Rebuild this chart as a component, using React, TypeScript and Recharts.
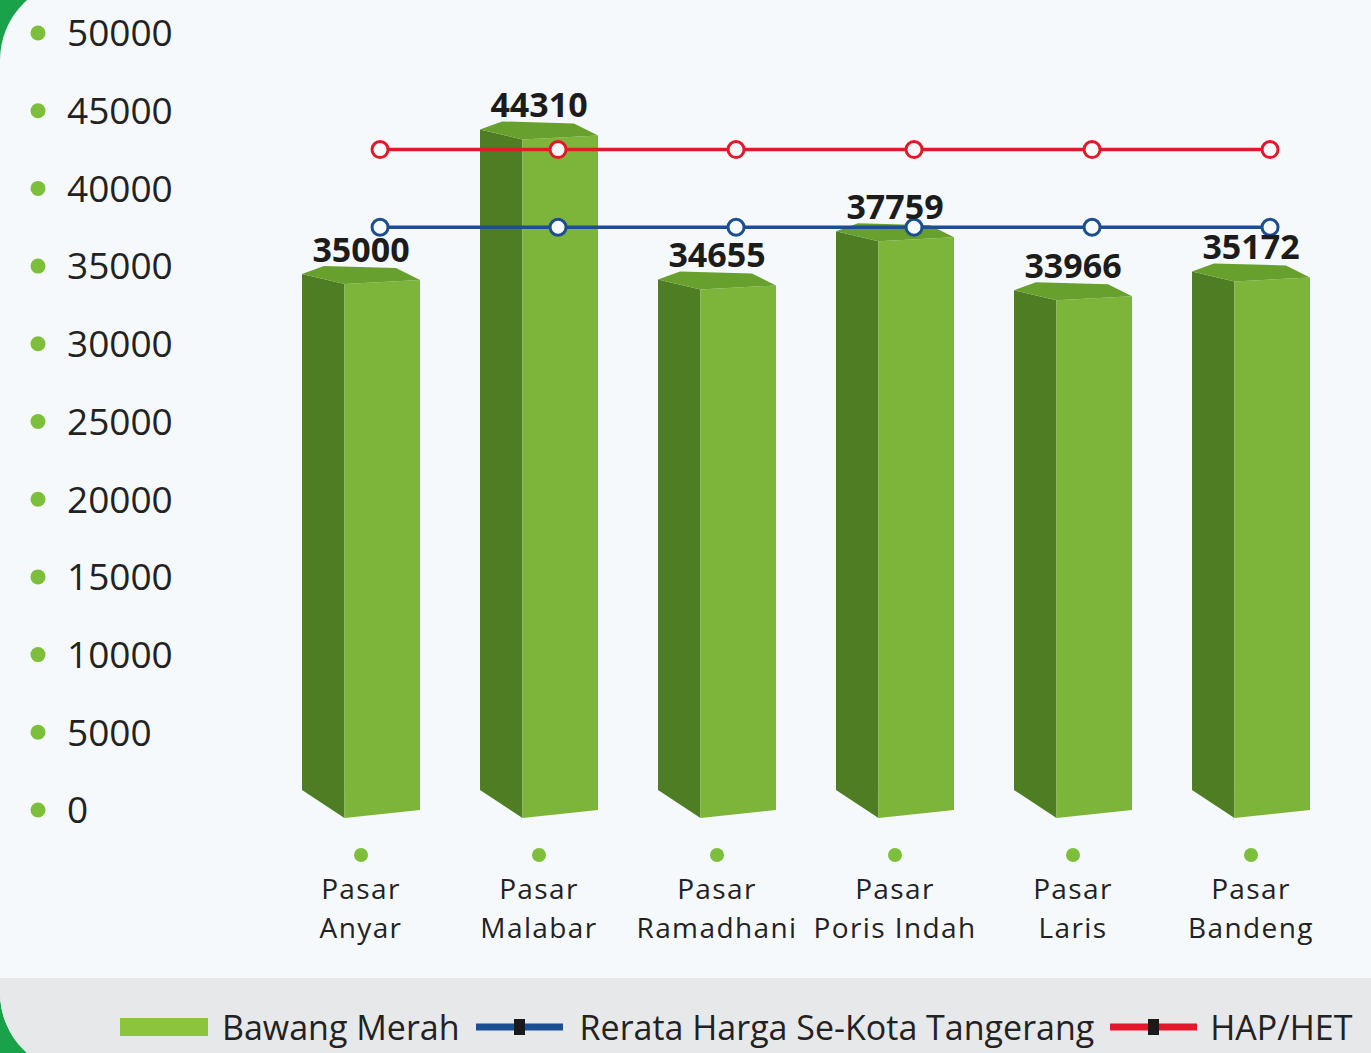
import React from 'react';
import { ComposedChart, Bar, Line, XAxis, YAxis, Legend, LabelList } from 'recharts';

const categories = ['Pasar Anyar', 'Pasar Malabar', 'Pasar Ramadhani', 'Pasar Poris Indah', 'Pasar Laris', 'Pasar Bandeng'];
const bawangMerah = [35000, 44310, 34655, 37759, 33966, 35172];
const rerataHarga = [37500, 37500, 37500, 37500, 37500, 37500];
const hapHet = [42500, 42500, 42500, 42500, 42500, 42500];
const yTicks = [0, 5000, 10000, 15000, 20000, 25000, 30000, 35000, 40000, 45000, 50000];
const seriesNames = ['Bawang Merah', 'Rerata Harga Se-Kota Tangerang', 'HAP/HET'];

const data = categories.map((name, i) => ({
  name,
  idx: i,
  bawang: bawangMerah[i],
  rerata: rerataHarga[i],
  hap: hapHet[i],
}));

const FONT = '"Open Sans", sans-serif';
const DOT_GREEN = '#7dbf3b';
const RED = '#e3192b';
const BLUE = '#1d4e8f';

const Bar3D = (props: any) => {
  const { x, y, width, height } = props;
  if (height == null || width == null) return null;
  const w = width;
  const side = w * 0.36;
  const top = y;
  const bottom = y + height;
  return (
    <g>
      <polygon
        points={`${x},${top + 8} ${x + side},${top + 18} ${x + side},${bottom + 8} ${x},${bottom - 20}`}
        fill="#4e7d23"
      />
      <polygon
        points={`${x + side},${top + 18} ${x + w},${top + 14} ${x + w},${bottom} ${x + side},${bottom + 8}`}
        fill="#7db43a"
      />
      <polygon
        points={`${x},${top + 8} ${x + 22},${top} ${x + w - 24},${top + 2} ${x + w},${top + 14} ${x + side},${top + 18}`}
        fill="#68a02e"
      />
    </g>
  );
};

const YTick = (props: any) => {
  const { y, payload } = props;
  return (
    <g>
      <circle cx={38} cy={y} r={7.5} fill={DOT_GREEN} />
      <text x={67} y={y} dy="0.36em" textAnchor="start" fontSize={37} fontFamily={FONT} fill="#222">
        {payload.value}
      </text>
    </g>
  );
};

const XTick = (props: any) => {
  const { x, y, payload } = props;
  const parts = String(payload.value).split(' ');
  const first = parts[0];
  const rest = parts.slice(1).join(' ');
  return (
    <g>
      <circle cx={x} cy={y + 45} r={7} fill={DOT_GREEN} />
      <text x={x} y={y + 89} textAnchor="middle" fontSize={28} letterSpacing={1.4} fontFamily={FONT} fill="#222">
        {first}
      </text>
      <text x={x} y={y + 128} textAnchor="middle" fontSize={28} letterSpacing={1.4} fontFamily={FONT} fill="#222">
        {rest}
      </text>
    </g>
  );
};

const ValueLabel = (props: any) => {
  const { x, y, width, value } = props;
  return (
    <text x={x + width / 2} y={y - 4} textAnchor="middle" fontSize={34} fontWeight={700} fontFamily={FONT} fill="#1c1c1c">
      {value}
    </text>
  );
};

const LineIcon = ({ color }: { color: string }) => (
  <svg width={87} height={18} style={{ display: 'block' }}>
    <rect x={0} y={5.5} width={87} height={7} fill={color} />
    <rect x={38} y={1} width={11} height={16} fill="#1a1a1a" />
  </svg>
);

const renderLegend = () => (
  <div
    style={{
      width: 1371,
      height: 75,
      background: '#e7e8ea',
      display: 'flex',
      alignItems: 'center',
      paddingLeft: 120,
      paddingTop: 22,
      boxSizing: 'border-box',
      fontFamily: FONT,
      fontSize: 34,
      color: '#222',
      whiteSpace: 'nowrap',
    }}
  >
    <div style={{ width: 88, height: 18, background: '#8cc43d' }} />
    <span style={{ marginLeft: 14 }}>{seriesNames[0]}</span>
    <div style={{ marginLeft: 16 }}>
      <LineIcon color={BLUE} />
    </div>
    <span style={{ marginLeft: 17 }}>{seriesNames[1]}</span>
    <div style={{ marginLeft: 16 }}>
      <LineIcon color={RED} />
    </div>
    <span style={{ marginLeft: 13 }}>{seriesNames[2]}</span>
  </div>
);

const OpenDot = (color: string) => (props: any) => {
  const { cx, cy } = props;
  return <circle cx={cx} cy={cy} r={8} fill="#f7fafd" stroke={color} strokeWidth={3} />;
};

export default function App() {
  return (
    <div
      style={{
        position: 'absolute',
        left: 0,
        top: 0,
        width: 1371,
        height: 1053,
        background: '#1aa24b',
        overflow: 'hidden',
      }}
    >
      <div
        style={{
          position: 'absolute',
          left: 0,
          top: -20,
          width: 1420,
          height: 1093,
          background: '#f5f9fc',
          borderRadius: 80,
          overflow: 'hidden',
        }}
      >
        <div style={{ position: 'absolute', left: 0, top: 20 }}>
          <ComposedChart
            width={1371}
            height={1053}
            data={data}
            margin={{ top: 33, right: 31, left: 0, bottom: 0 }}
            barCategoryGap={0}
          >
            <XAxis
              dataKey="name"
              xAxisId="cat"
              axisLine={false}
              tickLine={false}
              tickSize={0}
              tickMargin={0}
              height={168}
              interval={0}
              tick={<XTick />}
            />
            <XAxis
              dataKey="idx"
              xAxisId="pts"
              type="number"
              domain={[-0.607, 5.393]}
              allowDataOverflow
              hide
            />
            <YAxis
              domain={[0, 50000]}
              ticks={yTicks}
              axisLine={false}
              tickLine={false}
              tickSize={0}
              tickMargin={0}
              width={272}
              interval={0}
              tick={<YTick />}
            />
            <Legend verticalAlign="bottom" content={renderLegend} wrapperStyle={{ left: 0, bottom: 0, width: 1371, height: 75 }} />
            <Bar
              dataKey="bawang"
              name={seriesNames[0]}
              xAxisId="cat"
              barSize={118}
              shape={<Bar3D />}
              isAnimationActive={false}
            >
              <LabelList dataKey="bawang" content={<ValueLabel />} />
            </Bar>
            <Line
              dataKey="hap"
              name={seriesNames[2]}
              xAxisId="pts"
              stroke={RED}
              strokeWidth={3.5}
              dot={OpenDot(RED)}
              activeDot={false}
              isAnimationActive={false}
            />
            <Line
              dataKey="rerata"
              name={seriesNames[1]}
              xAxisId="pts"
              stroke={BLUE}
              strokeWidth={3.5}
              dot={OpenDot(BLUE)}
              activeDot={false}
              isAnimationActive={false}
            />
          </ComposedChart>
        </div>
      </div>
    </div>
  );
}
